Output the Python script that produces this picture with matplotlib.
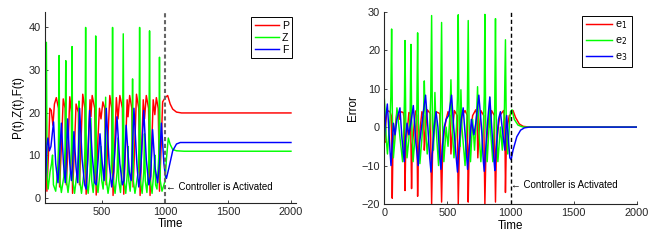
import matplotlib
matplotlib.use("Agg")
import matplotlib.pyplot as plt

plt.rcParams['font.family'] = ['Liberation Sans', 'DejaVu Sans']

# ---------------- data (key points) ----------------
# Left panel: P(t), Z(t), F(t)
p_t = [45, 52, 60, 72, 83, 95, 108, 120, 135, 152, 161, 175, 190, 205, 214, 228, 242, 255, 264, 278,
       292, 310, 319, 332, 345, 362, 372, 388, 403, 410, 420, 440, 452, 466, 478, 490, 505, 520, 531,
       545, 560, 575, 586, 600, 612, 625, 640, 660, 671, 685, 698, 705, 718, 735, 745, 758, 772, 790,
       801, 815, 826, 836, 850, 868, 880, 893, 905, 918, 930, 945, 955, 968, 980, 990, 1000, 1020,
       1040, 1060, 1090, 1130, 2000]
p_v = [23, 20, 1.5, 10, 21, 20.5, 17, 22, 23.5, 21, 2.5, 12, 23.2, 21, 3, 12, 23.7, 20, 1.0, 11,
       22, 20, 3, 14, 24.3, 21, 0.8, 12, 23, 19, 24, 21, 0.6, 14, 21, 18.5, 22.5, 21, 3,
       14, 24, 21, 0.5, 13, 23.5, 18.5, 24, 21, 0.8, 12, 23, 19, 24, 21, 2.5, 12, 24.3, 21,
       0.5, 13, 23, 18.5, 24, 21, 0.5, 12, 23, 19.5, 23.5, 21, 1.5, 12, 22.5, 23, 23.5, 24,
       22, 20.8, 20.1, 19.9, 19.9]

z_t = [45, 56, 62, 70, 85, 97, 105, 112, 130, 145, 152, 157, 163, 175, 195, 205, 210, 216, 228, 246,
       255, 260, 266, 280, 300, 310, 315, 321, 335, 355, 363, 368, 374, 388, 403, 410, 416, 428, 440,
       444, 448, 454, 466, 482, 490, 496, 507, 520, 527, 533, 546, 570, 577, 582, 588, 602, 618, 625,
       631, 645, 660, 667, 673, 687, 700, 705, 711, 722, 735, 741, 747, 760, 785, 792, 797, 803, 817,
       830, 836, 842, 855, 870, 876, 882, 896, 912, 918, 924, 935, 950, 955, 961, 975, 990, 1000,
       1010, 1025, 1040, 1060, 1090, 1150, 2000]
z_v = [14, 36.5, 5, 2, 6, 8, 10, 3, 1.5, 6, 12, 33.4, 4, 1.2, 5, 12, 32.2, 4, 1.2, 6,
       12, 35.5, 4, 1.0, 6, 10, 22.7, 4, 1.0, 6, 12, 40, 4, 1.0, 6, 18.6, 4, 1.2, 6,
       12, 38, 4, 1.2, 6, 12, 4, 2, 8, 23.6, 4, 1.0, 6, 12, 40, 4, 1.0, 6, 14,
       4, 1.2, 8, 38.5, 4, 1.0, 6, 12, 4, 1.5, 8, 27.9, 4, 1.0, 6, 12, 40, 4, 1.0,
       6, 15, 4, 1.2, 8, 39.2, 4, 1.0, 7, 10, 3, 2, 10, 33, 4, 1.5, 3, 4,
       9, 14, 12.5, 11.3, 11, 10.9, 10.9]

f_t = [45, 52, 60, 68, 80, 92, 113, 130, 148, 162, 175, 192, 206, 215, 225, 242, 255, 265, 275, 292,
       305, 320, 340, 360, 372, 385, 400, 420, 440, 452, 465, 482, 500, 515, 532, 555, 575, 590, 605,
       617, 640, 660, 672, 690, 715, 730, 752, 775, 790, 805, 830, 850, 870, 885, 900, 920, 940, 955,
       970, 990, 1000, 1010, 1030, 1060, 1090, 1120, 2000]
f_v = [3, 6, 12, 14, 11, 12, 17.8, 8, 3.5, 10, 17.5, 8, 3.5, 9, 18.5, 8, 4, 8, 15.5, 7,
       3.5, 21, 9, 3, 2, 9, 20.5, 10, 3.5, 3, 8, 15, 8, 4, 21, 8, 2.5, 6, 13,
       19, 8, 3, 4, 17, 6, 4, 21, 8, 2.5, 6, 20.5, 9, 3, 5, 16, 7, 3.5, 8,
       17.5, 8, 5.5, 4.5, 7, 11, 12.6, 12.95, 12.95]

# Right panel: errors e1, e2, e3
e1_t = [0, 5, 12, 20, 30, 45, 55, 60, 63, 68, 78, 90, 100, 110, 118, 130, 150, 158, 164, 170, 182, 195,
        208, 216, 222, 235, 248, 258, 264, 270, 282, 298, 312, 317, 325, 340, 365, 375, 382, 392, 401,
        410, 440, 454, 462, 475, 490, 505, 520, 528, 538, 555, 578, 586, 594, 605, 615, 640, 658, 665,
        672, 685, 700, 725, 735, 741, 750, 765, 788, 797, 805, 815, 830, 836, 850, 872, 881, 888, 900,
        915, 945, 955, 960, 966, 975, 990, 1000, 1020, 1040, 1070, 1100, 1150, 2000]
e1_v = [-3.5, -4, 1, 4, 4.2, 4, 3, -8, -18.5, -6, -2, 1, 3.8, 3.8, 2, 4, 3.8, 2, -16.5, -5, -1, 3.8,
        3.5, -16, -5, 0, 4.2, 3, -18, -6, -1, 4, 3, -6, -2, 4.5, 3.5, -20, -7, -2, 1,
        4, 3.5, -19.5, -6, -1, 2, 4, 3, -7, -2, 4.3, 3, -20, -7, -2, 3, 4.3, 3, -19.5,
        -6, -1, 3, 4.5, 3, -8, -2, 4.3, 3, -20, -7, -2, 3, 0, 4.3, 3, -19.5, -6, -1,
        3, 4.3, 2, -17, -6, 0, 3, 3.2, 4.3, 2.5, 0.8, 0.2, 0, 0]

e2_t = [0, 5, 15, 25, 35, 45, 52, 58, 64, 72, 85, 100, 110, 125, 145, 155, 160, 164, 170, 180, 195, 205,
        211, 217, 228, 245, 258, 264, 270, 282, 300, 312, 317, 325, 340, 360, 368, 375, 381, 390, 401,
        410, 430, 446, 454, 460, 472, 490, 505, 520, 528, 536, 552, 572, 580, 586, 592, 600, 607, 615,
        640, 658, 665, 671, 683, 700, 715, 732, 739, 747, 765, 785, 792, 797, 803, 815, 830, 836, 844,
        860, 875, 881, 887, 900, 920, 935, 952, 960, 966, 978, 992, 1000, 1012, 1030, 1060, 1100, 2000]
e2_v = [7.5, 5, -3, -7, -2, 2, 8, 25.5, 3, -8, -3, 5, 2, -3, -9, 0, 8, 22.5, 2, -8, -3, 4,
        21.5, 2, -9, -2, 5, 24.5, 2, -9.5, -2, 5, 12, 1, -7, 0, 8, 29, 2, -6, 9,
        0, -10, 5, 27.2, 2, -9, 0, -5, 3, 12.3, 1, -8, 0, 8, 29.2, 2, -5, 9.7, 0,
        -10, 5, 27.7, 2, -9, 2, -6, 4, 10.5, 0, -9, 0, 8, 29.3, 2, -9, 0, 7.8, -2,
        -9, 5, 28.2, 2, -9, 0, -6, 5, 22.7, 2, -7, 1, 4, 4.5, 2, 0.5, 0, 0]

e3_t = [0, 10, 24, 35, 45, 53, 62, 72, 85, 100, 124, 140, 158, 168, 180, 195, 210, 230, 250, 269, 280,
        295, 310, 327, 345, 360, 370, 382, 395, 410, 425, 440, 449, 460, 475, 490, 510, 533, 550, 570,
        580, 592, 610, 625, 645, 660, 672, 690, 710, 725, 749, 770, 785, 792, 805, 820, 836, 855, 870,
        876, 888, 905, 920, 940, 955, 970, 985, 995, 1005, 1020, 1050, 1080, 1110, 1150, 2000]
e3_v = [-3, 2, 6, 0, -6, -10, -5, 1, -2, 2, 5, -3, -9, -3, 1, -2, 1, 5.6, -4, -10, -4,
        0, 4, 8.3, 0, -8, -11.7, -6, 0, 4, 0, -8, -11, -5, 0, 2, 3, 8.3, 0, -8,
        -11.7, -5, 2, 5, -4, -11, -6, 2, -2, 1, 8.3, 0, -9, -11.5, -5, 2, 7.8, -2, -9,
        -11.3, -5, 2, 4, -2, -6, 3, -4, -8, -8.5, -6, -2.5, -0.8, -0.2, 0, 0]

t_control = 1000
left_labels = ['P', 'Z', 'F']
right_labels = ['e$_1$', 'e$_2$', 'e$_3$']
note = '\u2190 Controller is Activated'

# ---------------- figure ----------------
W, H = 665, 244
fig = plt.figure(figsize=(W / 100, H / 100), dpi=100)

def ax_rect(x0, x1, ytop, ybot):
    return [x0 / W, 1 - ybot / H, (x1 - x0) / W, (ybot - ytop) / H]

axL = fig.add_axes(ax_rect(45, 296, 11.7, 202.7))
axR = fig.add_axes(ax_rect(384.3, 636.7, 11.7, 204))

RED, GREEN, BLUE = '#ff0000', '#00ff00', '#0000ff'
lw = 1.05
fs_tick = 7.9
fs_lab = 8.4

axL.plot(p_t, p_v, color=RED, lw=lw, label=left_labels[0])
axL.plot(z_t, z_v, color=GREEN, lw=lw, label=left_labels[1])
axL.plot(f_t, f_v, color=BLUE, lw=lw, label=left_labels[2])
axL.axvline(t_control, color='0.4', lw=1.5, ls=(0, (2.0, 1.3)))
axL.set_xlim(45, 2040)
axL.set_ylim(-1.2, 43.7)
axL.set_xticks([500, 1000, 1500, 2000])
axL.set_yticks([0, 10, 20, 30, 40])
axL.set_xlabel('Time', fontsize=fs_lab, labelpad=1)
axL.set_ylabel('P(t),Z(t),F(t)', fontsize=fs_lab, labelpad=3)
axL.text(1008, 2.6, note, fontsize=7.0, va='center', ha='left')

axR.plot(e1_t, e1_v, color=RED, lw=lw, label=right_labels[0])
axR.plot(e2_t, e2_v, color=GREEN, lw=lw, label=right_labels[1])
axR.plot(e3_t, e3_v, color=BLUE, lw=lw, label=right_labels[2])
axR.axvline(t_control, color='black', lw=1.0, ls=(0, (3, 2)))
axR.set_xlim(0, 2000)
axR.set_ylim(-20, 30)
axR.set_xticks([0, 500, 1000, 1500, 2000])
axR.set_yticks([-20, -10, 0, 10, 20, 30])
axR.set_xlabel('Time', fontsize=fs_lab, labelpad=1)
axR.set_ylabel('Error', fontsize=fs_lab, labelpad=2)
axR.text(1005, -15.1, note, fontsize=7.0, va='center', ha='left')

for ax in (axL, axR):
    for s in ('top', 'right'):
        ax.spines[s].set_visible(False)
    for s in ('left', 'bottom'):
        ax.spines[s].set_linewidth(0.8)
        ax.spines[s].set_color('#262626')
    ax.tick_params(direction='in', length=2.5, width=0.6, labelsize=fs_tick, pad=3, colors='#262626')

legL = axL.legend(loc='upper right', bbox_to_anchor=(0.985, 0.97), fontsize=7.6, frameon=True,
                  fancybox=False, edgecolor='black', framealpha=1, handlelength=2.3,
                  handletextpad=0.3, borderpad=0.3, labelspacing=0.2, borderaxespad=0)
legL.get_frame().set_linewidth(0.7)
legR = axR.legend(loc='upper right', bbox_to_anchor=(0.98, 0.98), fontsize=7.8, frameon=True,
                  fancybox=False, edgecolor='black', framealpha=1, handlelength=2.4,
                  handletextpad=0.3, borderpad=0.35, labelspacing=0.4, borderaxespad=0)
legR.get_frame().set_linewidth(0.7)

fig.savefig('out.png', dpi=100)
